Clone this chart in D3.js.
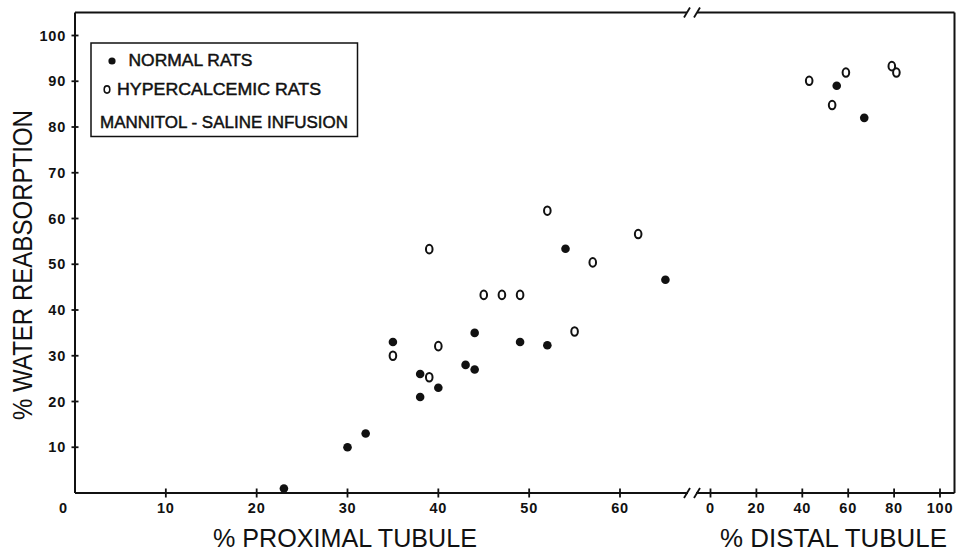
<!DOCTYPE html>
<html>
<head>
<meta charset="utf-8">
<script src="https://cdn.jsdelivr.net/npm/d3@7"></script>
<style>
  html, body { margin: 0; padding: 0; background: #fff; }
  svg { display: block; }
  text { font-family: "Liberation Sans", Arial, sans-serif; fill: #111; }
</style>
</head>
<body>
<svg id="chart" width="958" height="552"></svg>
<script>
// Proximal tubule samples: [% of proximal tubule, % water reabsorption]
const proximalNormal = [
  [23, 1], [30, 10], [32, 13], [35, 33], [38, 26], [38, 21], [40, 23],
  [43, 28], [44, 35], [44, 27], [49, 33], [52, 32.3], [54, 53.4], [65, 46.6]
];
const proximalHypercalcemic = [
  [35, 30], [39, 25.3], [40, 32.1], [39, 53.3], [45, 43.3], [47, 43.3],
  [49, 43.3], [52, 61.7], [55, 35.3], [57, 50.4], [62, 56.6]
];
// Distal tubule samples: [% of distal tubule, % water reabsorption]
const distalNormal = [[55, 89], [67, 82]];
const distalHypercalcemic = [[43, 90.1], [53, 84.8], [59, 91.9], [79, 93.3], [81, 91.9]];

const yTicks = [10, 20, 30, 40, 50, 60, 70, 80, 90, 100];
const proximalTicks = [10, 20, 30, 40, 50, 60];
const distalTicks = [0, 20, 40, 60, 80, 100];

const legendItems = ["NORMAL RATS", "HYPERCALCEMIC RATS", "MANNITOL - SALINE INFUSION"];

(function draw() {
  const svg = d3.select("#chart");

  const y = d3.scaleLinear().domain([0, 100]).range([493, 35.5]);
  const xp = d3.scaleLinear().domain([0, 60]).range([75, 620]);
  const xd = d3.scaleLinear().domain([0, 100]).range([710.5, 940]);

  const frameLeft = xp(0), frameBottom = y(0), frameTop = 12.5, frameRight = 954.5;
  const breakA = 687, breakB = 697;

  const ink = "#111";
  const g = svg.append("g");

  // Frame: left axis, top edge, right edge, bottom axis (both with a break)
  const frame = g.append("g").attr("fill", "none").attr("stroke", ink).attr("stroke-width", 2);
  frame.append("path").attr("d", `M${frameLeft},${frameTop} V${frameBottom}`);
  frame.append("path").attr("d", `M${frameRight},${frameTop} V${frameBottom}`);
  frame.append("path").attr("d", `M${frameLeft},${frameTop} H${breakA}`);
  frame.append("path").attr("d", `M${breakB},${frameTop} H${frameRight}`);
  frame.append("path").attr("d", `M${frameLeft},${frameBottom} H${breakA + 1}`);
  frame.append("path").attr("d", `M${breakB - 1},${frameBottom} H${frameRight}`);

  // Break marks "//"
  const slash = (cx, cy) => `M${cx - 3},${cy + 5} L${cx + 3},${cy - 5}`;
  [frameTop, frameBottom].forEach(cy => {
    frame.append("path").attr("d", slash(breakA, cy)).attr("stroke-width", 1.8);
    frame.append("path").attr("d", slash(breakB, cy)).attr("stroke-width", 1.8);
  });

  // Y axis ticks (crossing the axis) and labels
  const yAxis = g.append("g");
  yAxis.selectAll("line").data(yTicks).join("line")
    .attr("x1", frameLeft - 3.5).attr("x2", frameLeft + 3.5)
    .attr("y1", d => y(d)).attr("y2", d => y(d))
    .attr("stroke", ink).attr("stroke-width", 1.8);
  yAxis.selectAll("text").data(yTicks).join("text")
    .attr("x", 66).attr("y", d => y(d)).attr("dy", "0.36em")
    .attr("text-anchor", "end")
    .attr("font-size", 14.5).attr("font-weight", "bold").attr("letter-spacing", 0.8)
    .text(d => d);

  // X axis ticks: proximal and distal segments
  function xTicks(scale, values) {
    const a = g.append("g");
    a.selectAll("line").data(values).join("line")
      .attr("x1", d => scale(d)).attr("x2", d => scale(d))
      .attr("y1", frameBottom - 4.5).attr("y2", frameBottom + 4.5)
      .attr("stroke", ink).attr("stroke-width", 1.8);
    a.selectAll("text").data(values).join("text")
      .attr("x", d => scale(d)).attr("y", frameBottom + 14.5).attr("dy", "0.36em")
      .attr("text-anchor", "middle")
      .attr("font-size", 14.5).attr("font-weight", "bold").attr("letter-spacing", 0.8)
      .text(d => d);
  }
  xTicks(xp, proximalTicks);
  xTicks(xd, distalTicks);

  // Shared origin label
  g.append("text").attr("x", 63).attr("y", frameBottom + 14.5).attr("dy", "0.36em")
    .attr("text-anchor", "middle").attr("font-size", 14.5).attr("font-weight", "bold")
    .text("0");

  // Axis titles
  g.append("text").attr("x", 213).attr("y", 546.5)
    .attr("font-size", 26).attr("textLength", 264).attr("lengthAdjust", "spacingAndGlyphs")
    .text("% PROXIMAL TUBULE");
  g.append("text").attr("x", 720).attr("y", 546.5)
    .attr("font-size", 26).attr("textLength", 227).attr("lengthAdjust", "spacingAndGlyphs")
    .text("% DISTAL TUBULE");
  g.append("text")
    .attr("transform", "translate(32,420) rotate(-90)")
    .attr("font-size", 27).attr("textLength", 310).attr("lengthAdjust", "spacingAndGlyphs")
    .text("% WATER REABSORPTION");

  // Markers
  function filled(sel, data, xs) {
    sel.selectAll(null).data(data).join("circle")
      .attr("cx", d => xs(d[0])).attr("cy", d => y(d[1])).attr("r", 4.3)
      .attr("fill", ink);
  }
  function open(sel, data, xs) {
    sel.selectAll(null).data(data).join("ellipse")
      .attr("cx", d => xs(d[0])).attr("cy", d => y(d[1]))
      .attr("rx", 3.3).attr("ry", 4.3)
      .attr("fill", "none").attr("stroke", ink).attr("stroke-width", 2);
  }
  const pts = g.append("g");
  filled(pts, proximalNormal, xp);
  open(pts, proximalHypercalcemic, xp);
  filled(pts, distalNormal, xd);
  open(pts, distalHypercalcemic, xd);

  // Legend
  const lg = g.append("g");
  lg.append("rect").attr("x", 91).attr("y", 43).attr("width", 266.5).attr("height", 93.5)
    .attr("fill", "#fff").attr("stroke", ink).attr("stroke-width", 1.5);
  lg.append("circle").attr("cx", 112).attr("cy", 61).attr("r", 3.6).attr("fill", ink);
  lg.append("ellipse").attr("cx", 107).attr("cy", 89.5).attr("rx", 2.8).attr("ry", 3.6)
    .attr("fill", "none").attr("stroke", ink).attr("stroke-width", 1.6);
  const legendPos = [[128.5, 66, 124], [117, 94.5, 204], [100, 128, 248]];
  lg.selectAll("text").data(legendItems).join("text")
    .attr("x", (d, i) => legendPos[i][0]).attr("y", (d, i) => legendPos[i][1])
    .attr("textLength", (d, i) => legendPos[i][2]).attr("lengthAdjust", "spacingAndGlyphs")
    .attr("font-size", 16)
    .attr("stroke", ink).attr("stroke-width", 0.45)
    .text(d => d);
})();
</script>
</body>
</html>
